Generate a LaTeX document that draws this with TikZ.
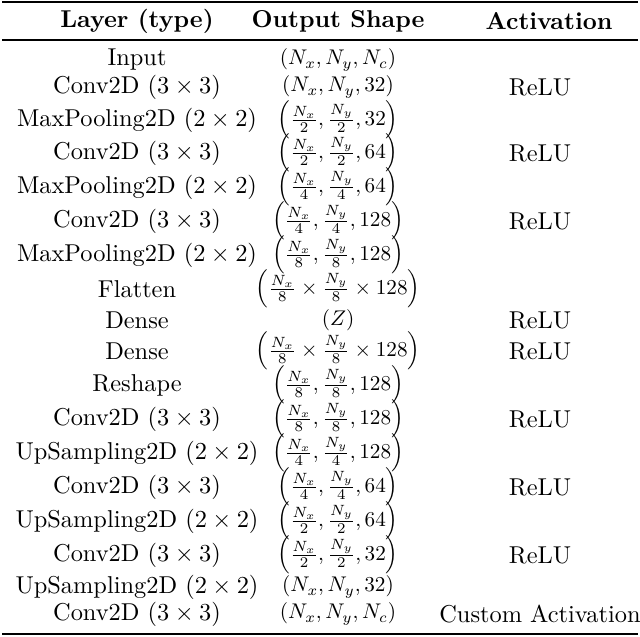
\documentclass[tikz,border=0pt]{standalone}
\usepackage{amsmath}
\begin{document}
\begin{tikzpicture}[x=0.41pt,y=-0.41pt]
\tikzset{cell/.style={inner sep=0pt,anchor=center}, hdr/.style={cell,font=\bfseries}, mcell/.style={cell,scale=0.87}}
\useasboundingbox (0,0) rectangle (640,636);
\draw[line width=0.8pt] (2,2) -- (638,2);
\draw[line width=0.5pt] (2,40) -- (638,40);
\draw[line width=0.8pt] (2,634) -- (638,634);
\node[hdr] (h1) at (137,21) {Layer (type)};
\node[hdr] (h2) at (338,21) {Output Shape};
\node[hdr] (h3) at (549,21) {Activation};
\foreach \y/\a/\b/\c [count=\i] in {
60/Input/{$(N_x,N_y,N_c)$}/{},
87/Conv2D ($3\times3$)/{$(N_x,N_y,32)$}/ReLU,
120/MaxPooling2D ($2\times2$)/{$\left(\frac{N_x}{2},\frac{N_y}{2},32\right)$}/{},
153/Conv2D ($3\times3$)/{$\left(\frac{N_x}{2},\frac{N_y}{2},64\right)$}/ReLU,
187/MaxPooling2D ($2\times2$)/{$\left(\frac{N_x}{4},\frac{N_y}{4},64\right)$}/{},
221/Conv2D ($3\times3$)/{$\left(\frac{N_x}{4},\frac{N_y}{4},128\right)$}/ReLU,
255/MaxPooling2D ($2\times2$)/{$\left(\frac{N_x}{8},\frac{N_y}{8},128\right)$}/{},
289/Flatten/{$\left(\frac{N_x}{8}\times\frac{N_y}{8}\times128\right)$}/{},
320/Dense/{$(Z)$}/ReLU,
351/Dense/{$\left(\frac{N_x}{8}\times\frac{N_y}{8}\times128\right)$}/ReLU,
385/Reshape/{$\left(\frac{N_x}{8},\frac{N_y}{8},128\right)$}/{},
419/Conv2D ($3\times3$)/{$\left(\frac{N_x}{8},\frac{N_y}{8},128\right)$}/ReLU,
453/UpSampling2D ($2\times2$)/{$\left(\frac{N_x}{4},\frac{N_y}{4},128\right)$}/{},
487/Conv2D ($3\times3$)/{$\left(\frac{N_x}{4},\frac{N_y}{4},64\right)$}/ReLU,
521/UpSampling2D ($2\times2$)/{$\left(\frac{N_x}{2},\frac{N_y}{2},64\right)$}/{},
555/Conv2D ($3\times3$)/{$\left(\frac{N_x}{2},\frac{N_y}{2},32\right)$}/ReLU,
587/UpSampling2D ($2\times2$)/{$(N_x,N_y,32)$}/{},
614/Conv2D ($3\times3$)/{$(N_x,N_y,N_c)$}/Custom Activation}{
  \node[cell] (l\i) at (137,\y) {\a};
  \node[mcell] (o\i) at (338,\y) {\b};
  \node[cell] (a\i) at (540,\y) {\c};
}
\end{tikzpicture}
\end{document}
